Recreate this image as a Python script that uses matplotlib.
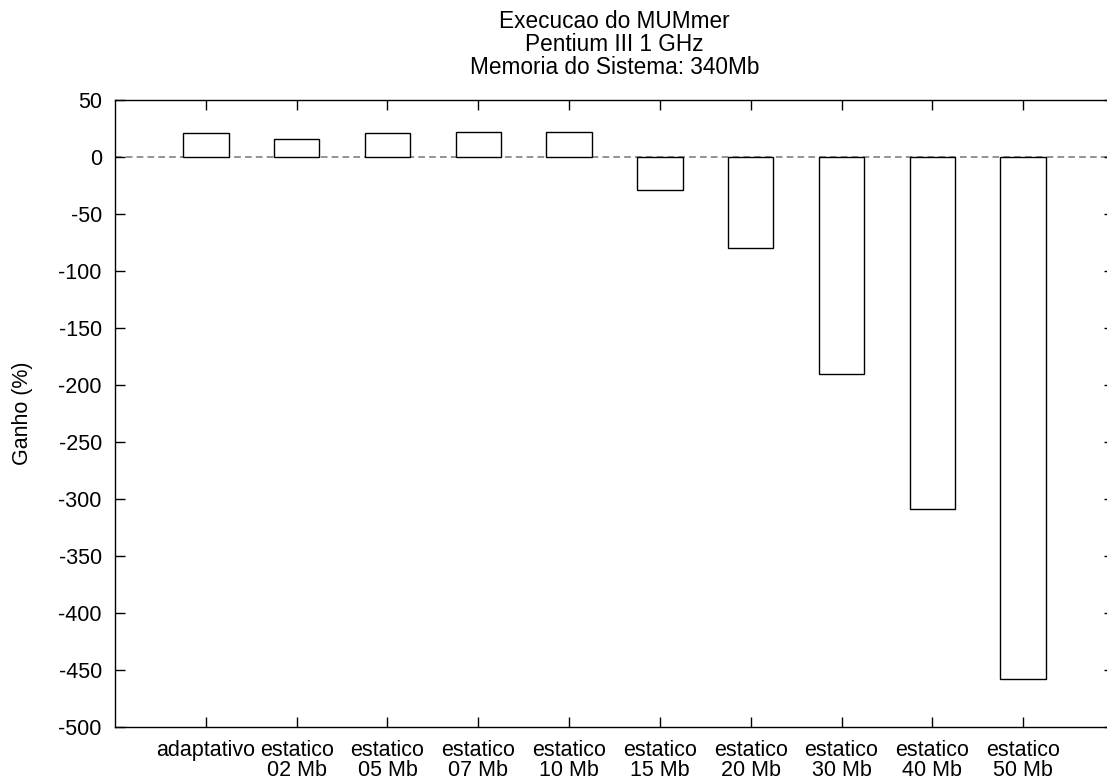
import matplotlib
matplotlib.use('Agg')
import matplotlib.pyplot as plt

# Data
labels = ['adaptativo', 'estatico\n02 Mb', 'estatico\n05 Mb', 'estatico\n07 Mb',
          'estatico\n10 Mb', 'estatico\n15 Mb', 'estatico\n20 Mb', 'estatico\n30 Mb',
          'estatico\n40 Mb', 'estatico\n50 Mb']
ganho = [20.8, 15.5, 20.8, 22.2, 21.7, -28.8, -80.1, -190.4, -309.0, -458.4]
yticks = list(range(-500, 51, 50))

plt.rcParams['font.family'] = ['Liberation Sans', 'DejaVu Sans']
plt.rcParams['font.size'] = 15.5
plt.rcParams['axes.unicode_minus'] = False

fig = plt.figure(figsize=(11.07, 7.83), dpi=100)
# gnuplot-style frame, right side runs slightly past the image edge
ax = fig.add_axes([115 / 1107, 56.3 / 783, 999 / 1107, 626.7 / 783])

x = list(range(1, len(labels) + 1))
ax.axhline(0, color='#808080', linewidth=1.2, dashes=(4, 2.5), zorder=1)
ax.bar(x, ganho, width=0.5, color='white', edgecolor='black', linewidth=1.0, zorder=2)

ax.set_xlim(0, 11)
ax.set_ylim(-500, 50)
ax.set_xticks(x)
ax.set_xticklabels(labels, linespacing=0.95)
ax.set_yticks(yticks)

ax.tick_params(direction='in', length=7, width=1.0, top=True, right=True, pad=9.5)
for s in ax.spines.values():
    s.set_linewidth(1.0)

ax.set_ylabel('Ganho (%)')
ax.yaxis.set_label_coords(-0.082, 0.5)
ax.set_title('Execucao do MUMmer\nPentium III 1 GHz\nMemoria do Sistema: 340Mb',
             fontsize=16.3, linespacing=1.0, pad=19)

fig.savefig('out.png', dpi=100)
